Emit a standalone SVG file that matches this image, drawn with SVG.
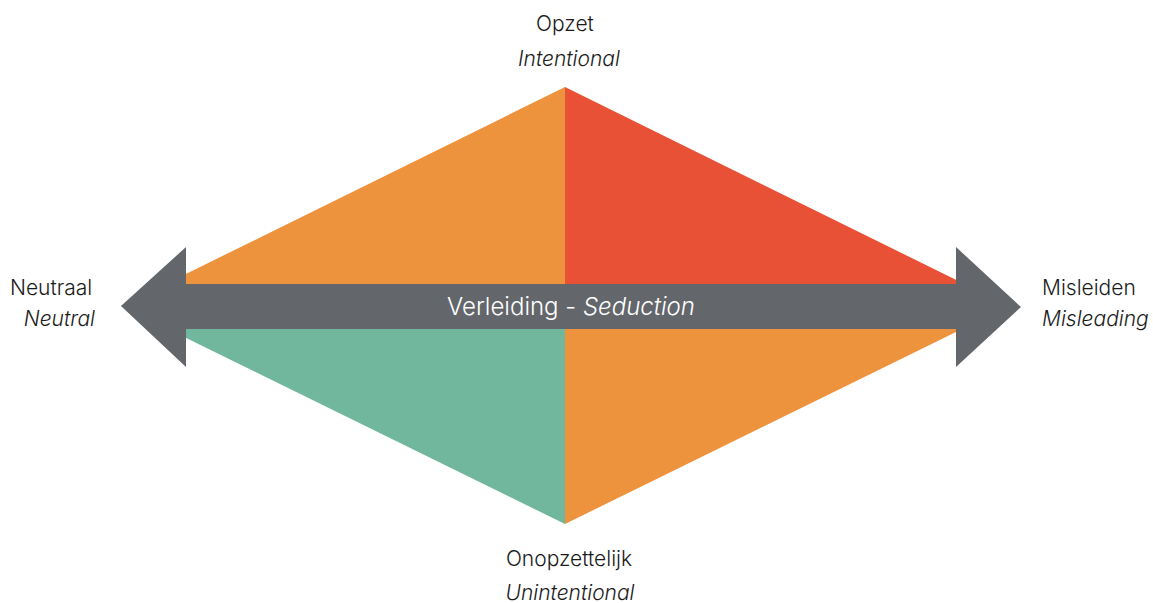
<svg xmlns="http://www.w3.org/2000/svg" width="1153" height="603" viewBox="0 0 1153 603">
<style>
.lbl{font-family:Inter,"Noto Sans","Liberation Sans",sans-serif;font-size:21px;font-weight:350;fill:#1a1a1a}
.it{font-style:italic}
.c{text-anchor:middle}
.axis{font-family:Inter,"Noto Sans","Liberation Sans",sans-serif;font-size:24px;font-weight:350;fill:#ffffff;text-anchor:middle}
</style>
<rect width="1153" height="603" fill="#ffffff"/>
<g id="quadrants">
<polygon id="q-top-left" points="565,87 121,306 565,306" fill="#ED923D"/>
<polygon id="q-top-right" points="565,87 1009,306 565,306" fill="#E85135"/>
<polygon id="q-bottom-left" points="121,306 565,524 565,306" fill="#71B79D"/>
<polygon id="q-bottom-right" points="565,306 1009,306 565,524" fill="#ED923D"/>
</g>
<g id="connectors">
<polygon id="axis-arrow" points="121,306 186,247 186,284 956,284 956,247 1021,307 956,367 956,329 186,329 186,367" fill="#63666B"/>
<text class="axis" x="571" y="315">Verleiding - <tspan font-style="italic">Seduction</tspan></text>
</g>
<g id="node-top">
<text class="lbl c" x="565" y="31">Opzet</text>
<text class="lbl it c" x="569" y="66">Intentional</text>
</g>
<g id="node-bottom">
<text class="lbl c" x="569" y="566">Onopzettelijk</text>
<text class="lbl it c" x="570" y="600">Unintentional</text>
</g>
<g id="node-left">
<text class="lbl" x="10" y="295">Neutraal</text>
<text class="lbl it" x="95" y="326" text-anchor="end">Neutral</text>
</g>
<g id="node-right">
<text class="lbl" x="1042" y="295">Misleiden</text>
<text class="lbl it" x="1042" y="326">Misleading</text>
</g>
</svg>
